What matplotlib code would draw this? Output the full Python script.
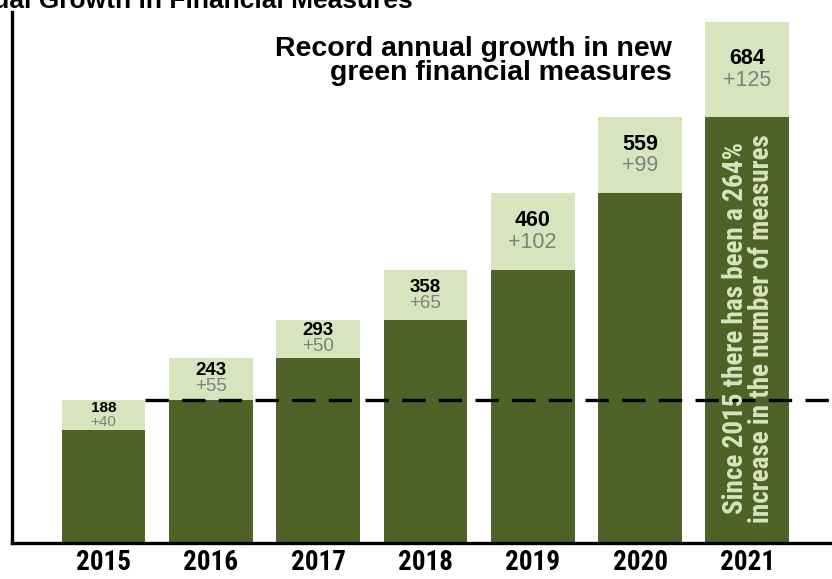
import numpy as np
import matplotlib.pyplot as plt
from matplotlib import font_manager

# values
years = ['2015', '2016', '2017', '2018', '2019', '2020', '2021']
totals = [188, 243, 293, 358, 460, 559, 684]
added = [40, 55, 50, 65, 102, 99, 125]

dark = '#4f6228'
light = '#d7e4bd'

# pick a narrow font if one is around
names = {f.name for f in font_manager.fontManager.ttflist}
narrow = dict(family='DejaVu Sans', fontstretch='condensed')
for n in ['Liberation Sans Narrow', 'Roboto Condensed', 'Open Sans Condensed']:
    if n in names:
        narrow = dict(family=n)
        break

plt.rcParams['font.family'] = ['Liberation Sans', 'DejaVu Sans']

fig = plt.figure(figsize=(8.32, 5.79), dpi=100)
ax = fig.add_axes([12/832, 36/579, 820/832, 531/579])

x = np.arange(len(years))
base = np.array(totals) - np.array(added)
ax.bar(x, base, width=0.78, color=dark, zorder=2)
ax.bar(x, added, bottom=base, width=0.78, color=light, zorder=2)

for i in range(len(years)):
    if i == 0:
        fs, d = 11, 9
    elif added[i] < 80:
        fs, d = 13.5, 10.5
    else:
        fs, d = 15.5, 14
    mid = totals[i] - added[i] / 2
    ax.text(x[i], mid + d, str(totals[i]), ha='center', va='center',
            fontsize=fs, fontweight='bold', color='black', zorder=4)
    ax.text(x[i], mid - d, '+' + str(added[i]), ha='center', va='center',
            fontsize=fs, color='#7f7f7f', zorder=4)

# reference line at the 2015 level
ax.plot([0.39, 6.79], [totals[0], totals[0]], color='black', lw=2.4,
        dashes=(7, 4), zorder=3)

ax.text(5.3, 633, 'Record annual growth in new\ngreen financial measures',
        ha='right', va='center', fontsize=20.5, fontweight='bold',
        linespacing=0.88, zorder=4)

ax.text(6.01, 282, 'Since 2015 there has been a 264%\nincrease in the number of measures',
        rotation=90, ha='center', va='center', fontsize=19.5, fontweight='bold',
        color=light, linespacing=0.98, zorder=4, **narrow)

ax.set_xlim(-0.853, 6.789)
ax.set_ylim(0, 697)
ax.set_xticks(x)
ax.set_xticklabels(years, fontsize=19.5, fontweight='bold', **narrow)
ax.tick_params(length=0, pad=4)
ax.set_yticks([])
for s in ['top', 'right']:
    ax.spines[s].set_visible(False)
for s in ['left', 'bottom']:
    ax.spines[s].set_linewidth(2.4)

fig.text(413/832, 1 - 8/579, 'Annual Growth in Financial Measures', ha='right',
         va='baseline', fontsize=19, fontweight='bold')

fig.savefig('out.png', dpi=100)
